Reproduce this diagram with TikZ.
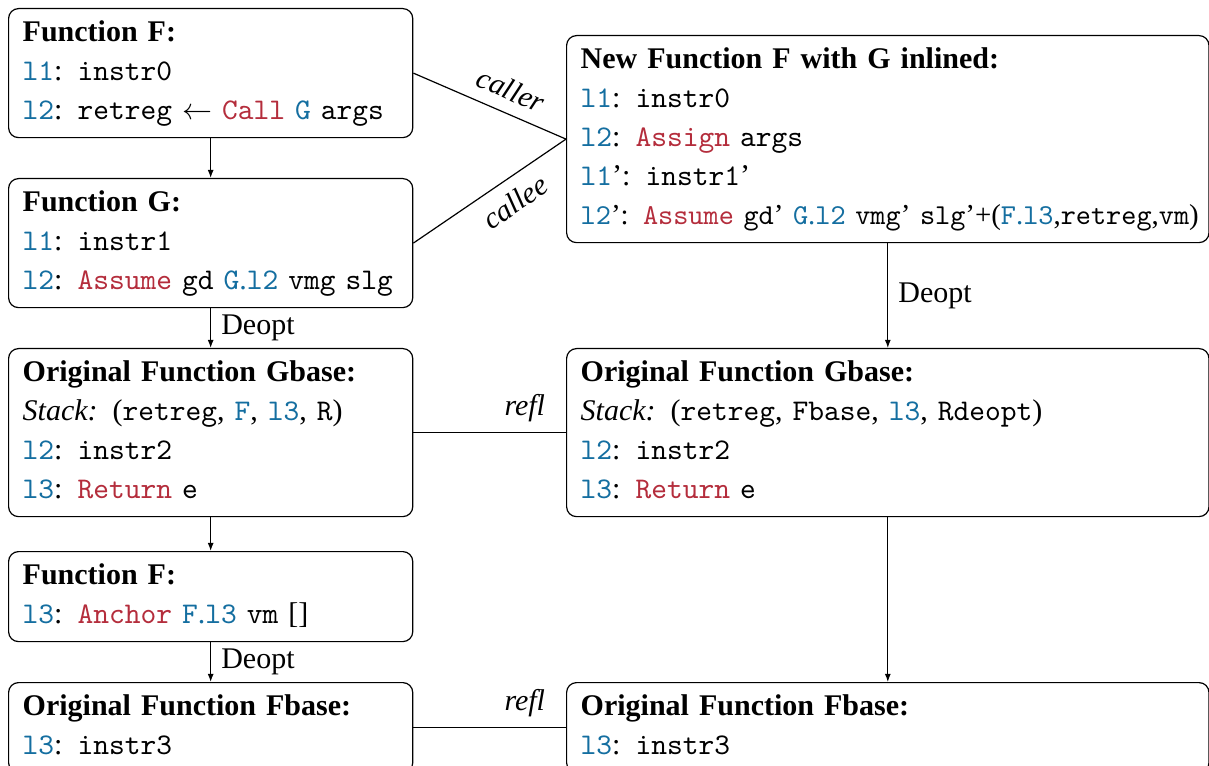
\documentclass[tikz,border=0pt]{standalone}
\usepackage{graphicx}
\usepackage{fontspec}
\setmainfont{Liberation Serif}
\usetikzlibrary{arrows.meta}

\definecolor{lblue}{RGB}{20,110,160}
\definecolor{kred}{RGB}{180,45,60}
\newcommand{\lb}[1]{\textcolor{lblue}{\texttt{#1}}}
\newcommand{\lref}[2]{\textcolor{lblue}{\texttt{#1}.\texttt{#2}}}
\newcommand{\kw}[1]{\textcolor{kred}{\texttt{#1}}}
\newcommand{\ins}[1]{\texttt{#1}}

\begin{document}
\begin{tikzpicture}[x=0.3333pt, y=-0.3333pt,
  fbox/.style={draw, rounded corners=3.3pt, align=left, anchor=north west,
    inner xsep=4.7pt, inner ysep=2pt, font=\fontsize{10}{13}\selectfont},
  lbox/.style={fbox, text width=125.3pt},
  rbox/.style={fbox, text width=204.7pt},
  flow/.style={-{Latex[length=2.7pt,width=2pt]}},
  lnk/.style={sloped, inner sep=4pt, font=\itshape}]
  \useasboundingbox (0,0) rectangle (1209,766);

  % left column
  \node[lbox] (F) at (8,8) {\strut\textbf{Function F:}\\
    \lb{l1}: \ins{instr0}\\
    \lb{l2}: \ins{retreg} $\leftarrow$ \kw{Call} \lb{G} \ins{args}\strut};
  \node[lbox] (G) at (8,178) {\strut\textbf{Function G:}\\
    \lb{l1}: \ins{instr1}\\
    \lb{l2}: \kw{Assume} \ins{gd} \lref{G}{l2} \ins{vmg} \ins{slg}\strut};
  \node[lbox] (Gb) at (8,348) {\strut\textbf{Original Function Gbase:}\\
    \textit{Stack:} (\ins{retreg}, \lb{F}, \lb{l3}, \ins{R})\\
    \lb{l2}: \ins{instr2}\\
    \lb{l3}: \kw{Return} \ins{e}\strut};
  \node[lbox] (Fa) at (8,551) {\strut\textbf{Function F:}\\
    \lb{l3}: \kw{Anchor} \lref{F}{l3} \ins{vm} []\strut};
  \node[lbox] (Fb) at (8,682) {\strut\textbf{Original Function Fbase:}\\
    \lb{l3}: \ins{instr3}\strut};

  % right column
  \node[rbox] (NF) at (566,35) {\strut\textbf{New Function F with G inlined:}\\
    \lb{l1}: \ins{instr0}\\
    \lb{l2}: \kw{Assign} \ins{args}\\
    \lb{l1}’: \ins{instr1}’\\
    \resizebox{206pt}{!}{\lb{l2}’: \kw{Assume} \ins{gd}’ \lref{G}{l2} \ins{vmg}’ \ins{slg}’+(\lref{F}{l3},\ins{retreg},\ins{vm})}\strut};
  \node[rbox] (Gbr) at (566,348) {\strut\textbf{Original Function Gbase:}\\
    \textit{Stack:} (\ins{retreg}, \ins{Fbase}, \lb{l3}, \ins{Rdeopt})\\
    \lb{l2}: \ins{instr2}\\
    \lb{l3}: \kw{Return} \ins{e}\strut};
  \node[rbox] (Fbr) at (566,682) {\strut\textbf{Original Function Fbase:}\\
    \lb{l3}: \ins{instr3}\strut};

  % deopt and plain flow
  \foreach \a/\b in {F/G, Gb/Fa, Gbr/Fbr}
    \draw[flow] (\a.south) -- (\b.north);
  \draw[flow] (G.south) -- node[right] {Deopt} (Gb.north);
  \draw[flow] (Fa.south) -- node[right] {Deopt} (Fb.north);
  \draw[flow] (NF.south) -- node[right] {Deopt} (Gbr.north);

  % inlining
  \draw (F.east) -- node[lnk, above, pos=0.58] {caller} (NF.west);
  \draw (G.east) -- node[lnk, below, pos=0.58] {callee} (NF.west);

  % reflection
  \draw (Gb.east) -- node[above, pos=0.73, font=\itshape] {refl} (Gbr.west);
  \draw (Fb.east) -- node[above, pos=0.73, font=\itshape] {refl} (Fbr.west);
\end{tikzpicture}
\end{document}
